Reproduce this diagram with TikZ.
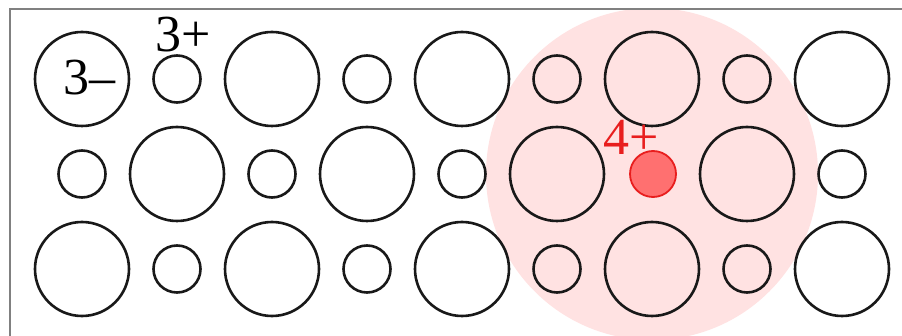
\documentclass[tikz,border=0pt]{standalone}
\usepackage{fontspec}
\setmainfont{Liberation Serif}
\definecolor{pinkfield}{RGB}{255,226,226}
\definecolor{ionfill}{RGB}{255,112,112}
\definecolor{ionedge}{RGB}{232,30,30}
\definecolor{framegray}{RGB}{128,128,128}
\begin{document}
\begin{tikzpicture}[x=1pt,y=-1pt,
  big/.style={circle,draw=black!90,line width=2.6pt,minimum size=94pt,inner sep=0pt},
  small/.style={circle,draw=black!90,line width=2.6pt,minimum size=47pt,inner sep=0pt},
  ion/.style={circle,draw=ionedge,fill=ionfill,line width=1.8pt,minimum size=46pt,inner sep=0pt},
  lbl/.style={font=\fontsize{52}{58}\selectfont,inner sep=0pt}]
\useasboundingbox (0,0) rectangle (902,336);
\fill[white] (0,0) rectangle (902,336);
\begin{scope}
  \clip (10,9) rectangle (902,336);
  \node[circle,fill=pinkfield,minimum size=332pt,inner sep=0pt] (field) at (652,174) {};
\end{scope}
\draw[framegray,line width=2pt] (10,336) |- (902,9);
% top row
\foreach \i in {0,...,4} {
  \node[big] (t\i) at (82+190*\i,79) {};
}
\foreach \i in {0,...,3} {
  \node[small] (ts\i) at (177+190*\i,79) {};
}
% middle row
\foreach \i in {0,1,2,4} {
  \node[small] (m\i) at (82+190*\i,174) {};
}
\foreach \i in {0,...,3} {
  \node[big] (mb\i) at (177+190*\i,174) {};
}
\node[ion] (dopant) at (653,174) {};
% bottom row
\foreach \i in {0,...,4} {
  \node[big] (b\i) at (82+190*\i,269) {};
}
\foreach \i in {0,...,3} {
  \node[small] (bs\i) at (177+190*\i,269) {};
}
% labels
\node[lbl] (anion) at (89,78) {3–};
\node[lbl] (cation) at (183,35) {3+};
\node[lbl,text=ionedge] (dopantlbl) at (631,137) {4+};
\end{tikzpicture}
\end{document}
